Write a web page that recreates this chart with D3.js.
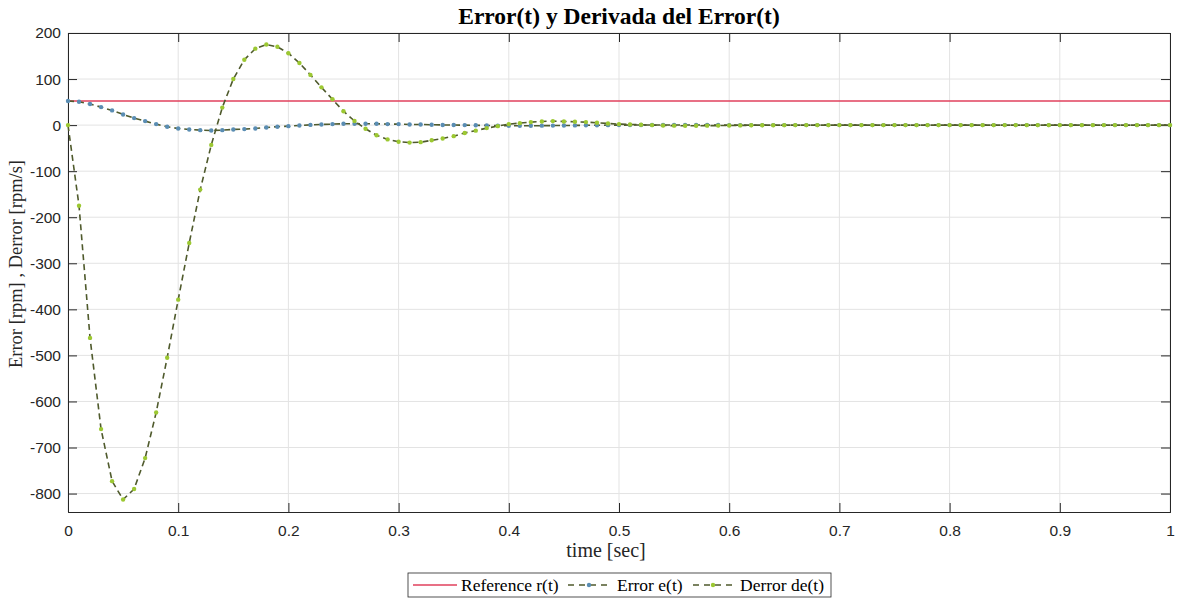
<!DOCTYPE html>
<html>
<head>
<meta charset="utf-8">
<script src="https://cdn.jsdelivr.net/npm/d3@7"></script>
<style>
  body { margin: 0; background: #fff; }
</style>
</head>
<body>
<div id="viz"></div>
<script>
// sample times (s)
var time = [0, 0.01, 0.02, 0.03, 0.04, 0.05, 0.06, 0.07, 0.08, 0.09,
  0.1, 0.11, 0.12, 0.13, 0.14, 0.15, 0.16, 0.17, 0.18, 0.19,
  0.2, 0.21, 0.22, 0.23, 0.24, 0.25, 0.26, 0.27, 0.28, 0.29,
  0.3, 0.31, 0.32, 0.33, 0.34, 0.35, 0.36, 0.37, 0.38, 0.39,
  0.4, 0.41, 0.42, 0.43, 0.44, 0.45, 0.46, 0.47, 0.48, 0.49,
  0.5, 0.51, 0.52, 0.53, 0.54, 0.55, 0.56, 0.57, 0.58, 0.59,
  0.6, 0.61, 0.62, 0.63, 0.64, 0.65, 0.66, 0.67, 0.68, 0.69,
  0.7, 0.71, 0.72, 0.73, 0.74, 0.75, 0.76, 0.77, 0.78, 0.79,
  0.8, 0.81, 0.82, 0.83, 0.84, 0.85, 0.86, 0.87, 0.88, 0.89,
  0.9, 0.91, 0.92, 0.93, 0.94, 0.95, 0.96, 0.97, 0.98, 0.99, 1]

// reference level r(t)
var refLevel = 52.5

// error e(t) [rpm]
var errorVals = [52.5, 50.7, 45.7, 39.1, 31.9, 23.2, 15.2, 8.7, 2.2, -3.6,
  -7.2, -9.4, -10.9, -11.6, -10.9, -9.4, -8.7, -7.2, -5.1, -3.4,
  -2.2, -0.9, 0.5, 1.4, 2.2, 2.9, 2.9, 2.9, 2.9, 2.2,
  2.2, 1.4, 1.4, 0.7, 0.4, 0.2, 0, -0.4, -0.7, -1.1,
  -1.4, -1.4, -1.3, -1.2, -1.0, -0.8, -0.6, -0.4, -0.3, -0.1,
  0, 0.1, 0.1, 0.2, 0.2, 0.2, 0.2, 0.1, 0.1, 0.1,
  0, 0, 0, 0, 0, 0, 0, 0, 0, 0,
  0, 0, 0, 0, 0, 0, 0, 0, 0, 0,
  0, 0, 0, 0, 0, 0, 0, 0, 0, 0,
  0, 0, 0, 0, 0, 0, 0, 0, 0, 0, 0]

// derivative de(t) [rpm/s]
var derrorVals = [0, -175, -462, -660, -773, -813, -790, -723, -624, -505,
  -379, -256, -140, -43, 38, 100, 142, 166, 175, 170,
  156, 135, 109, 82, 56, 30, 9, -8, -22, -31,
  -36, -38, -37, -33, -29, -24, -17, -12, -6.5, -2.2,
  2.2, 4.3, 6.5, 8, 8.7, 8, 7.2, 6.5, 5, 3.6,
  2.2, 1.4, 0.7, 0, -0.7, -1.2, -1.4, -1.4, -1.2, -1.0,
  -0.8, -0.6, -0.4, -0.3, -0.2, -0.1, 0, 0, 0, 0,
  0, 0, 0, 0, 0, 0, 0, 0, 0, 0,
  0, 0, 0, 0, 0, 0, 0, 0, 0, 0,
  0, 0, 0, 0, 0, 0, 0, 0, 0, 0, 0]

var xTicks = [0, 0.1, 0.2, 0.3, 0.4, 0.5, 0.6, 0.7, 0.8, 0.9, 1]
var yTicks = [-800, -700, -600, -500, -400, -300, -200, -100, 0, 100, 200]

var legendLabels = ["Reference r(t)", "Error e(t)", "Derror de(t)"]

// general variables
var w = 1177
var h = 601
var m = { top: 33, right: 7, bottom: 89, left: 68 }
var iw = w - m.left - m.right
var ih = h - m.top - m.bottom

var axisColor = "#262626"
var gridColor = "#e3e3e3"
var refColor = "#e0405c"
var lineColor = "#4f5a2c"
var errMarker = "#5a8db3"
var derMarker = "#9cc832"
var serif = "'Liberation Serif', 'Times New Roman', serif"
var sans = "'Liberation Sans', Arial, sans-serif"

var x = d3.scaleLinear().domain([0, 1]).range([0, iw])
var y = d3.scaleLinear().domain([-840, 200]).range([ih, 0])

var svg = d3.select("#viz")
  .append("svg")
  .attr("width", w)
  .attr("height", h)
  .style("font-family", sans)

var g = svg.append("g").attr("transform", "translate(" + m.left + "," + m.top + ")")

// grid
g.append("g").selectAll("line").data(xTicks).enter().append("line")
  .attr("x1", d => x(d)).attr("x2", d => x(d))
  .attr("y1", 0).attr("y2", ih)
  .attr("stroke", gridColor).attr("stroke-width", 1)
g.append("g").selectAll("line").data(yTicks).enter().append("line")
  .attr("x1", 0).attr("x2", iw)
  .attr("y1", d => y(d)).attr("y2", d => y(d))
  .attr("stroke", gridColor).attr("stroke-width", 1)

// axes (ticks pointing inward, like matlab)
var fmt = d => String(+d.toFixed(2))   // plain hyphen minus
var xAxis = d3.axisBottom(x).tickValues(xTicks).tickSize(-9).tickPadding(13).tickFormat(fmt)
var xAxisTop = d3.axisTop(x).tickValues(xTicks).tickSize(-9).tickFormat("")
var yAxis = d3.axisLeft(y).tickValues(yTicks).tickSize(-9).tickPadding(7).tickFormat(fmt)
var yAxisRight = d3.axisRight(y).tickValues(yTicks).tickSize(-9).tickFormat("")

function styleAxis(sel) {
  sel.select(".domain").attr("stroke", axisColor).attr("stroke-width", 1)
  sel.selectAll(".tick line").attr("stroke", axisColor)
  sel.selectAll("text").attr("fill", axisColor).style("font-size", "15.5px")
    .style("font-family", sans)
}

g.append("g").attr("transform", "translate(0," + ih + ")").call(xAxis).call(styleAxis)
g.append("g").call(xAxisTop).call(styleAxis)
g.append("g").call(yAxis).call(styleAxis)
g.append("g").attr("transform", "translate(" + iw + ",0)").call(yAxisRight).call(styleAxis)

// reference line
g.append("line")
  .attr("x1", x(time[0])).attr("x2", x(time[time.length - 1]))
  .attr("y1", y(refLevel)).attr("y2", y(refLevel))
  .attr("stroke", refColor).attr("stroke-width", 1.6)

var line = d3.line().x((d, i) => x(time[i])).y(d => y(d))

function drawSeries(vals, markColor) {
  g.append("path").datum(vals)
    .attr("d", line)
    .attr("fill", "none")
    .attr("stroke", lineColor)
    .attr("stroke-width", 1.6)
    .attr("stroke-dasharray", "6,4")
  g.append("g").selectAll("circle").data(vals).enter().append("circle")
    .attr("cx", (d, i) => x(time[i]))
    .attr("cy", d => y(d))
    .attr("r", 2.2)
    .attr("fill", markColor)
}

drawSeries(errorVals, errMarker)
drawSeries(derrorVals, derMarker)

// title and labels
svg.append("text")
  .attr("x", m.left + iw / 2).attr("y", 24)
  .attr("text-anchor", "middle")
  .style("font-family", serif)
  .style("font-weight", "bold").style("font-size", "23.5px")
  .attr("fill", "#000")
  .text("Error(t) y Derivada del Error(t)")

svg.append("text")
  .attr("x", 606).attr("y", 557)
  .attr("text-anchor", "middle")
  .style("font-family", serif)
  .style("font-size", "20px")
  .attr("fill", axisColor)
  .text("time [sec]")

svg.append("text")
  .attr("transform", "translate(22,264) rotate(-90)")
  .attr("text-anchor", "middle")
  .style("font-family", serif)
  .style("font-size", "18.5px")
  .attr("fill", axisColor)
  .text("Error [rpm] , Derror [rpm/s]")

// legend
var lg = svg.append("g").attr("transform", "translate(408,573)")
lg.append("rect").attr("width", 423).attr("height", 24)
  .attr("fill", "#fff").attr("stroke", axisColor).attr("stroke-width", 0.8)

var legendItems = [
  { x0: 5, x1: 49, tx: 53, color: null, mark: null },
  { x0: 160, x1: 202, tx: 209, color: lineColor, mark: errMarker },
  { x0: 285, x1: 325, tx: 332, color: lineColor, mark: derMarker }
]
legendItems.forEach((it, i) => {
  var ly = 12
  lg.append("line")
    .attr("x1", it.x0).attr("x2", it.x1).attr("y1", ly).attr("y2", ly)
    .attr("stroke", it.color || refColor).attr("stroke-width", 1.6)
    .attr("stroke-dasharray", it.color ? "6,5" : null)
  if (it.mark) {
    lg.append("circle").attr("cx", (it.x0 + it.x1) / 2).attr("cy", ly).attr("r", 2.2).attr("fill", it.mark)
  }
  lg.append("text").attr("x", it.tx).attr("y", ly + 6)
    .style("font-family", serif)
    .style("font-size", "17.5px")
    .attr("fill", "#000")
    .text(legendLabels[i])
})
</script>
</body>
</html>
